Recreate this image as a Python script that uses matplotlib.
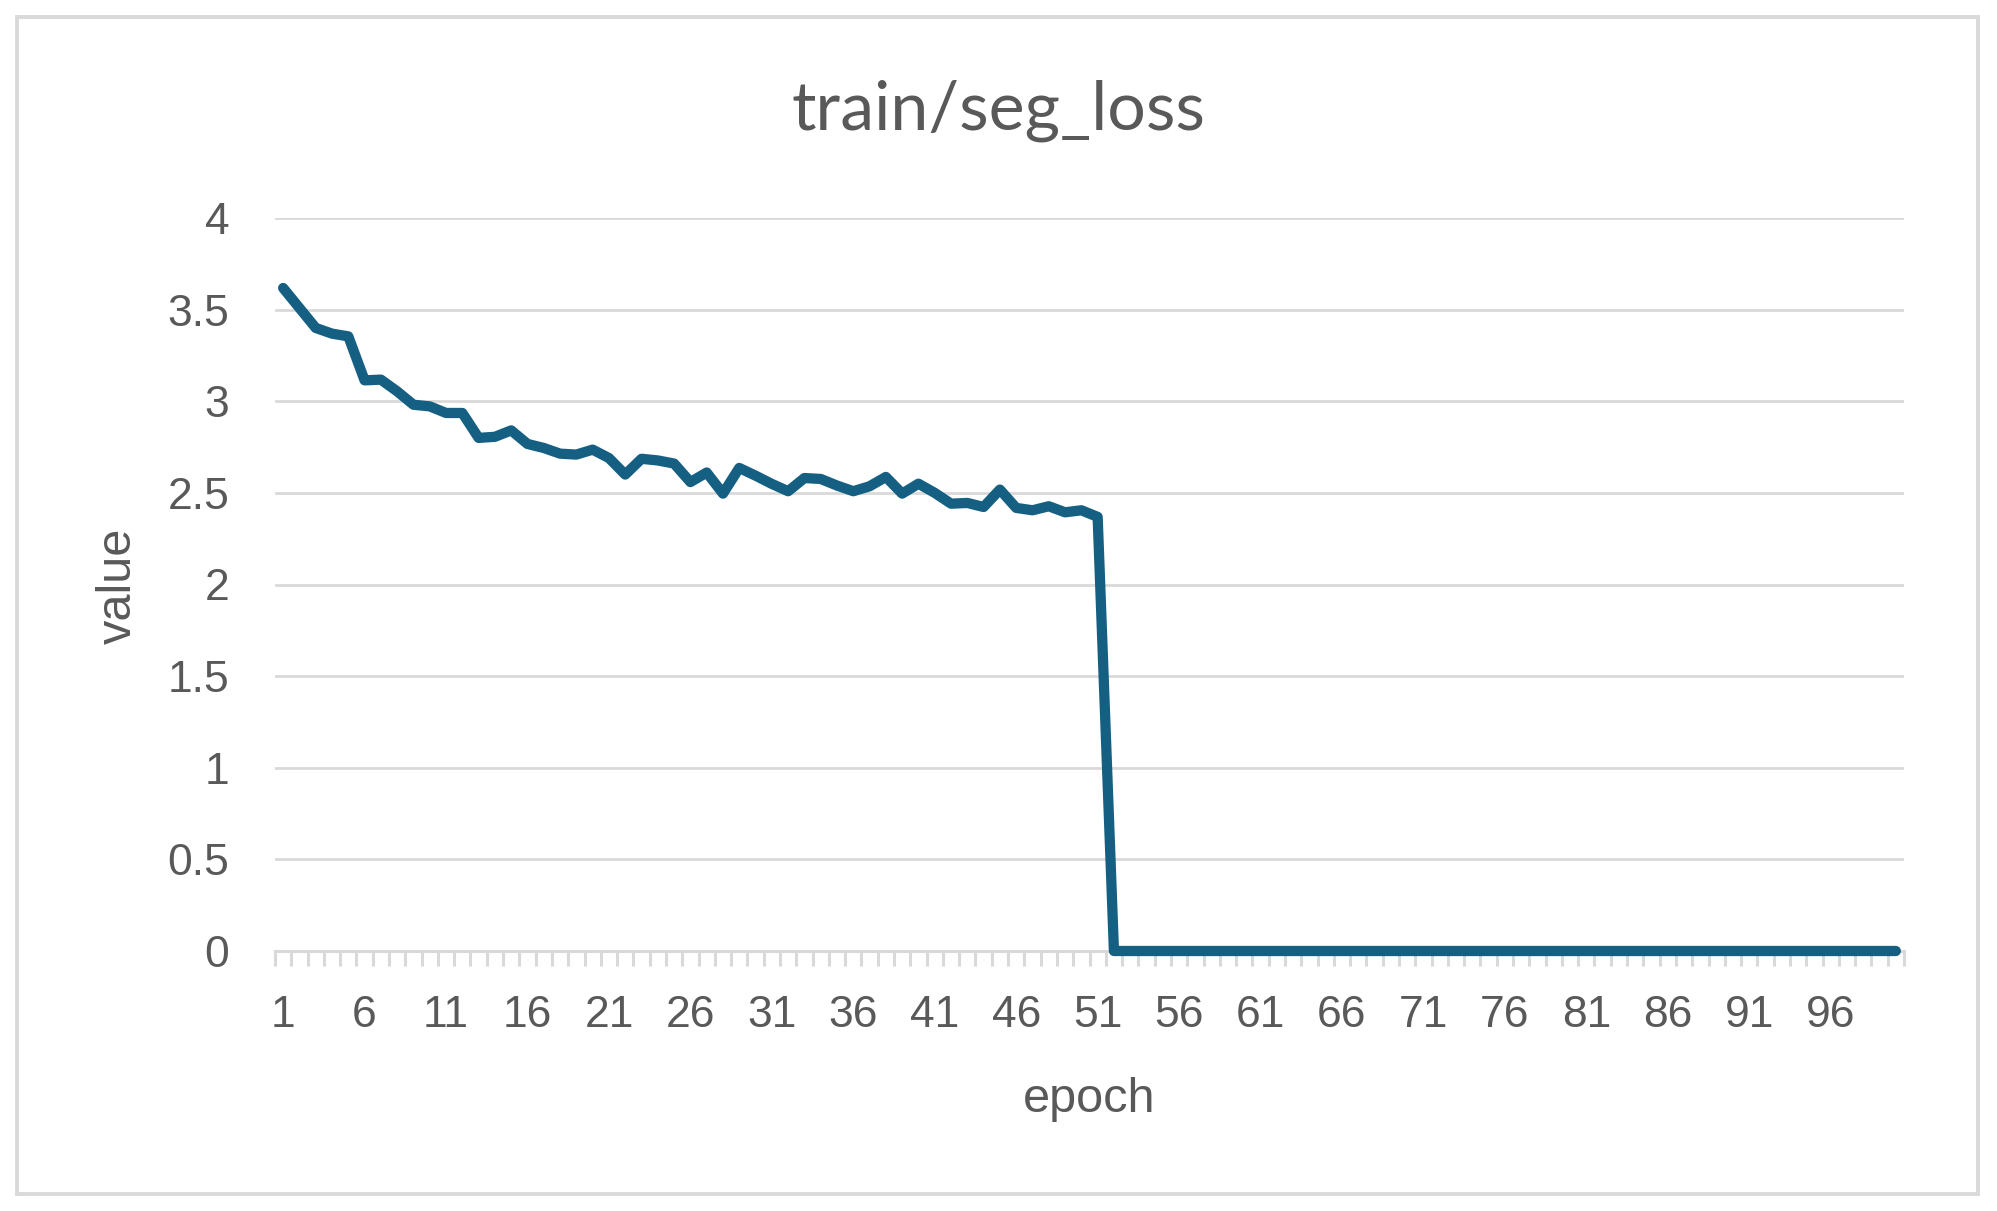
import numpy as np
import matplotlib
matplotlib.use("Agg")
import matplotlib.pyplot as plt
from matplotlib.patches import Rectangle

# Datos
epochs = list(range(1, 101))
seg_loss = [3.618, 3.509, 3.400, 3.369, 3.354, 3.114, 3.118, 3.054, 2.981, 2.972,
            2.936, 2.936, 2.800, 2.806, 2.841, 2.767, 2.745, 2.714, 2.709, 2.736,
            2.690, 2.600, 2.686, 2.677, 2.660, 2.559, 2.611, 2.496, 2.636, 2.594,
            2.549, 2.509, 2.581, 2.576, 2.540, 2.509, 2.536, 2.587, 2.496, 2.550,
            2.500, 2.441, 2.445, 2.423, 2.518, 2.418, 2.405, 2.427, 2.394, 2.405,
            2.369, 0.0, 0.0, 0.0, 0.0, 0.0, 0.0, 0.0, 0.0, 0.0,
            0.0, 0.0, 0.0, 0.0, 0.0, 0.0, 0.0, 0.0, 0.0, 0.0,
            0.0, 0.0, 0.0, 0.0, 0.0, 0.0, 0.0, 0.0, 0.0, 0.0,
            0.0, 0.0, 0.0, 0.0, 0.0, 0.0, 0.0, 0.0, 0.0, 0.0,
            0.0, 0.0, 0.0, 0.0, 0.0, 0.0, 0.0, 0.0, 0.0, 0.0]
x_labels = [1, 6, 11, 16, 21, 26, 31, 36, 41, 46, 51, 56, 61, 66, 71, 76, 81, 86, 91, 96]
y_ticks = [0, 0.5, 1, 1.5, 2, 2.5, 3, 3.5, 4]
y_labels = ["0", "0.5", "1", "1.5", "2", "2.5", "3", "3.5", "4"]

text_color = "#595959"
grid_color = "#D9D9D9"
line_color = "#156082"

fig = plt.figure(figsize=(19.97, 12.11), dpi=100)
ax = fig.add_axes([275 / 1997, 260 / 1211, 1629 / 1997, 733 / 1211])

# marco exterior del grafico
fig.patches.append(Rectangle((17 / 1997, 17 / 1211), (1978 - 17) / 1997, (1194 - 17) / 1211,
                             transform=fig.transFigure, fill=False,
                             edgecolor=grid_color, linewidth=2.8))

ax.plot(epochs, seg_loss, color=line_color, linewidth=7.4,
        solid_joinstyle="round", solid_capstyle="round", clip_on=False, zorder=3)

ax.set_xlim(0.5, 100.5)
ax.set_ylim(0, 4)

for s in ["top", "right", "left"]:
    ax.spines[s].set_visible(False)
ax.spines["bottom"].set_color(grid_color)
ax.spines["bottom"].set_linewidth(2.2)

ax.set_yticks(y_ticks)
ax.set_yticklabels(y_labels)
ax.yaxis.grid(True, color=grid_color, linewidth=2.0)
ax.set_axisbelow(True)

ax.set_xticks(x_labels)
ax.set_xticklabels([str(v) for v in x_labels])
ax.set_xticks(np.arange(0.5, 101, 1), minor=True)
ax.tick_params(axis="x", which="minor", length=11, width=2.2, color=grid_color, direction="out")
ax.tick_params(axis="x", which="major", length=0, pad=32, labelsize=32, labelcolor=text_color)
ax.tick_params(axis="y", length=0, pad=33, labelsize=32, labelcolor=text_color)
for lab in ax.get_xticklabels() + ax.get_yticklabels():
    lab.set_family("Liberation Sans")

fig.text(0.5, 1 - 130 / 1211, "train/seg_loss", ha="center", va="baseline",
         fontsize=49, color=text_color, family="Lato")
fig.text(1089 / 1997, 1 - 1111.7 / 1211, "epoch", ha="center", va="baseline",
         fontsize=35, color=text_color, family="Liberation Sans")
fig.text(118 / 1997, 1 - 586 / 1211, "value", ha="center", va="center", rotation=90,
         fontsize=35, color=text_color, family="Liberation Sans")

plt.savefig("out.png", dpi=100, facecolor="white")
